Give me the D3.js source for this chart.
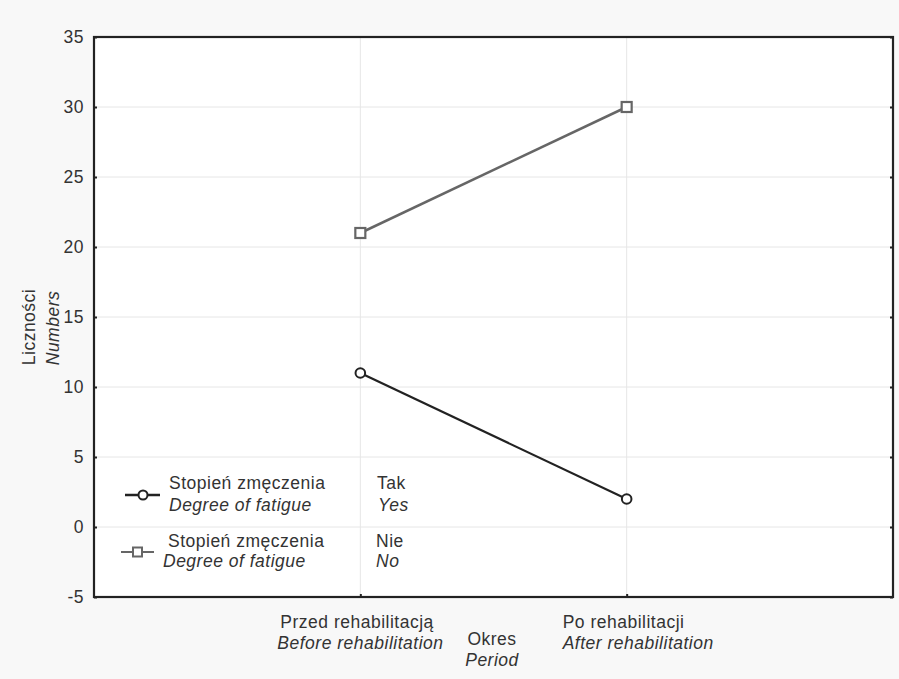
<!DOCTYPE html>
<html><head><meta charset="utf-8">
<script src="https://cdn.jsdelivr.net/npm/d3@7"></script>
<style>
html,body{margin:0;padding:0;background:#f8f8f8;}
text{font-family:"Liberation Sans",Arial,sans-serif;fill:#333;letter-spacing:0.5px;}
</style></head>
<body>
<svg id="c" width="899" height="679"></svg>
<script>
const categories = ["Przed rehabilitacją", "Po rehabilitacji"];
const categoriesEn = ["Before rehabilitation", "After rehabilitation"];
const yTicks = [-5, 0, 5, 10, 15, 20, 25, 30, 35];
const takValues = [11, 2];   // Stopień zmęczenia: Tak / Yes
const nieValues = [21, 30];  // Stopień zmęczenia: Nie / No

const FS = 17.5;
const svg = d3.select("#c");
const L = 94, R = 893, T = 37, B = 597;

const x = d3.scalePoint().domain(categories).range([L, R]).padding(1);
const y = d3.scaleLinear().domain([-5, 35]).range([B, T]);

svg.append("rect").attr("x", L).attr("y", T).attr("width", R - L).attr("height", B - T).attr("fill", "#fff");

// grid
svg.append("g").selectAll("line").data(yTicks.slice(1, -1)).join("line")
  .attr("x1", L).attr("x2", R).attr("y1", d => y(d)).attr("y2", d => y(d))
  .attr("stroke", "#e6e6e6").attr("stroke-width", 1);
svg.append("g").selectAll("line").data(categories).join("line")
  .attr("x1", d => x(d)).attr("x2", d => x(d)).attr("y1", T).attr("y2", B)
  .attr("stroke", "#e6e6e6").attr("stroke-width", 1);

// axes
const gL = svg.append("g").attr("transform", `translate(${L},0)`)
  .call(d3.axisLeft(y).tickValues(yTicks).tickSize(-3).tickPadding(10).tickFormat(d => String(d)));
gL.select(".domain").remove();
gL.selectAll("line").attr("stroke", "#222").attr("stroke-width", 2);
gL.selectAll("text").attr("font-size", FS).attr("fill", "#333")
  .attr("font-family", "'Liberation Sans',Arial,sans-serif");

const gR = svg.append("g").attr("transform", `translate(${R},0)`)
  .call(d3.axisRight(y).tickValues(yTicks).tickSize(-3).tickFormat(""));
gR.select(".domain").remove();
gR.selectAll("line").attr("stroke", "#222").attr("stroke-width", 2);

const gB = svg.append("g").attr("transform", `translate(0,${B})`)
  .call(d3.axisBottom(x).tickSize(-3).tickFormat(""));
gB.select(".domain").remove();
gB.selectAll("line").attr("stroke", "#222").attr("stroke-width", 2);

svg.append("rect").attr("x", L).attr("y", T).attr("width", R - L).attr("height", B - T)
  .attr("fill", "none").attr("stroke", "#222").attr("stroke-width", 2.2);

// category labels
const labOff = [[-80, -83], [-64, -64]];
categories.forEach((c, i) => {
  svg.append("text").attr("x", x(c) + labOff[i][0]).attr("y", 628)
    .attr("font-size", FS).text(c);
  svg.append("text").attr("x", x(c) + labOff[i][1]).attr("y", 649)
    .attr("font-size", FS).attr("font-style", "italic").text(categoriesEn[i]);
});
svg.append("text").attr("x", 492).attr("y", 645).attr("text-anchor", "middle").attr("font-size", FS).text("Okres");
svg.append("text").attr("x", 492).attr("y", 666).attr("text-anchor", "middle").attr("font-size", FS).attr("font-style", "italic").text("Period");

// y title
svg.append("text").attr("transform", "translate(35,327) rotate(-90)").attr("text-anchor", "middle")
  .attr("font-size", FS).text("Liczności");
svg.append("text").attr("transform", "translate(59,328) rotate(-90)").attr("text-anchor", "middle")
  .attr("font-size", FS).attr("font-style", "italic").text("Numbers");

// lines
const line = d3.line().x((d, i) => x(categories[i])).y(d => y(d));
svg.append("path").datum(nieValues).attr("d", line).attr("fill", "none").attr("stroke", "#666").attr("stroke-width", 2.5);
svg.append("path").datum(takValues).attr("d", line).attr("fill", "none").attr("stroke", "#222").attr("stroke-width", 2.2);

svg.append("g").selectAll("rect").data(nieValues).join("rect")
  .attr("x", (d, i) => x(categories[i]) - 5).attr("y", d => y(d) - 5)
  .attr("width", 10).attr("height", 10).attr("fill", "#fff").attr("stroke", "#666").attr("stroke-width", 2.2);
svg.append("g").selectAll("circle").data(takValues).join("circle")
  .attr("cx", (d, i) => x(categories[i])).attr("cy", d => y(d)).attr("r", 4.8)
  .attr("fill", "#fff").attr("stroke", "#222").attr("stroke-width", 2);

// legend
const lg = svg.append("g");
lg.append("line").attr("x1", 125).attr("x2", 160).attr("y1", 495).attr("y2", 495).attr("stroke", "#222").attr("stroke-width", 2.5);
lg.append("circle").attr("cx", 143).attr("cy", 495).attr("r", 4.5).attr("fill", "#fff").attr("stroke", "#222").attr("stroke-width", 2);
lg.append("text").attr("x", 169).attr("y", 489).attr("font-size", FS).text("Stopień zmęczenia");
lg.append("text").attr("x", 169).attr("y", 511).attr("font-size", FS).attr("font-style", "italic").text("Degree of fatigue");
lg.append("text").attr("x", 377).attr("y", 489).attr("font-size", FS).text("Tak");
lg.append("text").attr("x", 378).attr("y", 511).attr("font-size", FS).attr("font-style", "italic").text("Yes");

lg.append("line").attr("x1", 121).attr("x2", 154).attr("y1", 552).attr("y2", 552).attr("stroke", "#666").attr("stroke-width", 2.2);
lg.append("rect").attr("x", 133).attr("y", 547.5).attr("width", 9).attr("height", 9).attr("fill", "#fff").attr("stroke", "#666").attr("stroke-width", 2);
lg.append("text").attr("x", 168).attr("y", 547).attr("font-size", FS).text("Stopień zmęczenia");
lg.append("text").attr("x", 163).attr("y", 567).attr("font-size", FS).attr("font-style", "italic").text("Degree of fatigue");
lg.append("text").attr("x", 376).attr("y", 547).attr("font-size", FS).text("Nie");
lg.append("text").attr("x", 376).attr("y", 567).attr("font-size", FS).attr("font-style", "italic").text("No");
</script>
</body></html>
